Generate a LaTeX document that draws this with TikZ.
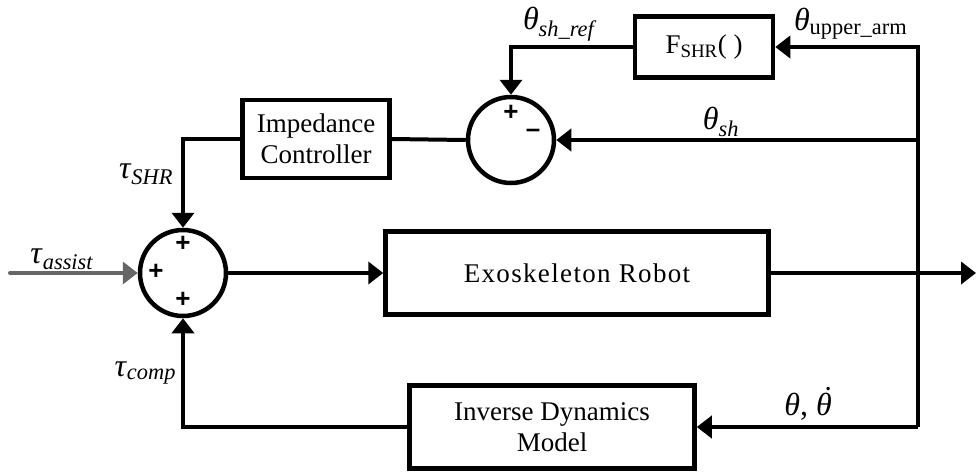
\documentclass[tikz,border=0pt]{standalone}
\usepackage{fontspec}
\setmainfont{Liberation Serif}
\setsansfont{Liberation Sans}
\usetikzlibrary{arrows.meta}
% signal name with italic subscript
\newcommand{\sig}[2]{\textit{#1}\textsubscript{\textit{#2}}}

\begin{document}
\begin{tikzpicture}[x=1pt,y=-1pt,line width=4pt,>={Triangle[length=15pt,width=22pt]},
    block/.style={draw,line width=4.5pt,align=center,inner sep=0pt,font=\fontsize{27}{31}\selectfont},
    sum/.style={draw,circle,line width=4.5pt,minimum size=86pt,inner sep=0pt},
    lbl/.style={inner sep=0pt,font=\fontsize{32}{34}\selectfont},
    sgn/.style={font=\fontsize{26}{26}\selectfont\sffamily\bfseries}]
    \useasboundingbox (0,0) rectangle (976,472);
    % blocks
    \node [block,minimum width=147pt,minimum height=78pt] (imp) at (316,139) {Impedance\\ Controller};
    \node [block,minimum width=138pt,minimum height=61pt] (fshr) at (704,47) {F\textsubscript{SHR}( )};
    \node [block,minimum width=383pt,minimum height=83pt] (exo) at (577,273) {\addfontfeature{LetterSpace=5}Exoskeleton Robot};
    \node [block,minimum width=285pt,minimum height=83pt] (inv) at (552,427) {Inverse Dynamics\\ Model};
    % summing junctions
    \node [sum] (sumt) at (183,273) {};
    \node [sum] (sums) at (511,140) {};
    \node [sgn] (p1) at (183,244) {+};
    \node [sgn] (p2) at (156,272) {+};
    \node [sgn] (p3) at (183,300) {+};
    \node [sgn] (p4) at (511,113) {+};
    \node [sgn] (m1) at (533,133) {–};
    % free ends
    \coordinate (rt) at (918,47);
    \coordinate (rm) at (918,140);
    \coordinate (rb) at (918,427);
    \coordinate (in) at (10,273);
    \coordinate (out) at (976,273);
    % connections
    \draw [->] (rb) -- (rt) -- (fshr.east);
    \draw [->] (rm) -- (sums.east);
    \draw [->] (fshr.west) -| (sums.north);
    \draw (sums.west) -- (imp.east);
    \draw [->] (imp.west) -| (sumt.north);
    \draw [->,color=black!60,line cap=round] (in) -- (sumt.west);
    \draw [->] (sumt.east) -- (exo.west);
    \draw [->] (exo.east) -- (out);
    \draw [->] (rb) -- (inv.east);
    \draw [->] (inv.west) -| (sumt.south);
    % signal labels
    \node [lbl] (lref) at (560,24) {\sig{θ}{sh\_ref}};
    \node [lbl,anchor=west] (lup) at (792,24) {\textit{θ}\textsubscript{upper\_arm}};
    \node [lbl] (lsh) at (721,122) {\sig{θ}{sh}};
    \node [lbl,anchor=east] (lshr) at (175,174) {\sig{τ}{SHR}};
    \node [lbl] (lass) at (62,259) {\sig{τ}{assist}};
    \node [lbl,anchor=east] (lcomp) at (178,373) {\sig{τ}{comp}};
    \node [lbl] (lth) at (808,404) {\textit{θ}, \textit{\accent"02D9 θ}};
\end{tikzpicture}
\end{document}
